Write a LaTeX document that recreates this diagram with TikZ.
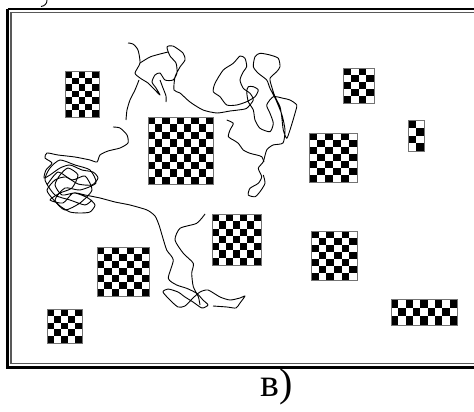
\documentclass[tikz,border=0pt]{standalone}
\usepackage{fontspec}
\setmainfont{Liberation Serif}
\tikzset{
  walk/.style={draw=black, line width=0.9pt, smooth, tension=0.4, line join=round},
  boardedge/.style={draw=black!55, line width=0.8pt},
  outerframe/.style={draw=black, line width=2.6pt},
  innerframe/.style={draw=black!65, line width=1.1pt},
}
\newcommand\chkb[6]{%
  \pgfmathsetmacro\chkW{(#3-#1)/#5}%
  \pgfmathsetmacro\chkH{(#4-#2)/#6}%
  \pgfmathtruncatemacro\chkC{#5-1}%
  \pgfmathtruncatemacro\chkR{#6-1}%
  \fill[white] (#1,#2) rectangle (#3,#4);
  \foreach \ci in {0,...,\chkC}{%
    \foreach \cj in {0,...,\chkR}{%
      \pgfmathtruncatemacro\chkP{mod(\ci+\cj,2)}%
      \ifnum\chkP=0
        \fill[black] ({#1+\ci*\chkW},{#2+\cj*\chkH}) rectangle ++(\chkW,\chkH);
      \fi
    }%
  }%
  \draw[boardedge] (#1,#2) rectangle (#3,#4);
}
\begin{document}
\begin{tikzpicture}[x=1pt,y=-1pt]
\clip (0,0) rectangle (474,412);
\fill[white] (0,0) rectangle (474,412);

% frame
\draw[outerframe] (7.5,9) -- (480,9);
\draw[outerframe] (7.5,9) -- (7.5,367.5) -- (480,367.5);
\draw[innerframe] (11,12.2) -- (480,12.2);
\draw[innerframe] (11,12.2) -- (11,363.6) -- (480,363.6);

% fragment of label above
\draw[line width=0.9pt] (47,0) .. controls (47,3.5) and (45,6) .. (41,6.5);

% checkerboards
\chkb{65}{71}{99}{117}{5}{7}
\chkb{148}{117}{213}{184}{9}{9}
\chkb{343}{68}{374}{103}{4}{5}
\chkb{408}{120}{424}{151}{2}{4}
\chkb{309}{133}{357}{182}{6}{7}
\chkb{311}{231}{357}{280}{6}{7}
\chkb{212}{214}{261}{265}{7}{7}
\chkb{97}{247}{149}{296}{7}{7}
\chkb{47}{309}{82}{343}{5}{5}
\chkb{391}{299}{457}{325}{9}{3}

% random walks
\draw[walk] plot coordinates {
 (128,43) (133,44) (138,50) (140,63) (135,73) (140,78) (148,83) (153,88) (160,95)
 (156,88) (152,82) (155,75) (160,73) (165,80) (173,80) (177,73) (176,63) (170,56)
 (167,47) (173,46) (183,53) (185,60) (180,67) (175,77) (174,90) (180,93) (190,102)
 (203,110) (217,113) (230,111) (238.3,110) (246.7,108.3) (253.3,100) (250,93.3)
 (243.3,88.3) (240,80) (243.3,71.7) (246.7,66.7) (245,58.3) (240,56) (233.3,63.3)
 (223.3,70) (215,83.3) (213.3,91.7) (220,96.7) (226.7,105) (236.7,105) (246.7,101.7)
 (255,96.7) (258.3,90) (253.3,86.7) (248.3,86.7) (246.7,91.7) (248.3,101.7) (253.3,110)
 (255,120) (260,128.3) (270,131.7) (273.3,123.3) (270,113.3) (266.7,105) (273.3,96.7)
 (283.3,98.3) (290,100) (296.7,105) (295,113.3) (290,130) (286.7,138.3) (283.3,130)
 (281.7,116.7) (280,106.7) (275,96.7) (271.7,86.7) (270,78.3) (276.7,71.7) (280,66.7)
 (278.3,58.3) (270,55) (260,53.3) (255,56.7) (253.3,66.7) (258.3,73.3) (266.7,80)
 (270,88.3) (276,100) (282,115) (285,130) (283,143) (273,145) (266.7,150) (263.3,161.7)
 (258.3,168.3) (261.7,176.7) (258.3,183.3) (250,188.3) (248.3,195) (255,196.7)
 (260,191.7) (265,183.3) (263.3,175)
};
\draw[walk] plot coordinates {
 (140,63) (150,57) (160,54) (168,52)
};
\draw[walk] plot coordinates {
 (126,120) (127,110) (130,100) (135,90) (139,80)
};
\draw[walk] plot coordinates {
 (160,80) (163,88) (166,96) (166,102)
};
\draw[walk] plot coordinates {
 (226.7,120) (233.3,123.3) (230,130) (228.3,136.7) (233.3,140) (238.3,143.3)
 (243.3,150) (250,153.3) (256.7,155) (261.7,156.7) (264,162)
};
\draw[walk] plot coordinates {
 (113,127) (120,128) (127,135) (128,143) (120,148) (108,151) (100,155) (97,162)
 (90,160) (75,157) (58,155) (47,153) (45,158) (52,163) (46,170) (44,178) (50,175)
 (60,168) (70,165) (82,170) (93,172) (98,178) (92,185) (78,184) (66,177) (55,180)
 (47,190) (52,198) (60,206) (70,212) (80,213) (90,212) (95,205) (88,198) (75,193)
 (62,195) (55,185) (60,175) (68,168) (78,175) (72,188) (60,193) (50,200) (63,203)
 (73,193) (85,195) (100,198) (115,202) (130,205) (147,210) (155,216) (159,225)
 (162,235) (166.7,250) (173.3,260) (168.3,278.3) (176.7,285) (186.7,288.3)
 (196.7,293.3) (203,300) (208,305) (202,308) (193,302) (185,297) (178,292) (168,289)
 (163,292) (170,300) (178,307) (185,306) (193,298) (200,292) (208,290) (220,297)
 (230,300) (240,298) (245,296) (240,303) (236,308) (227,307) (213,306)
};
\draw[walk] plot coordinates {
 (47,185) (58,172) (72,180) (85,176) (92,190) (80,203) (65,210) (55,200) (65,188)
 (80,190) (96,183) (90,170) (75,165) (60,160) (50,168) (45,180) (55,195) (70,200)
 (85,205) (92,200)
};
\draw[walk] plot coordinates {
 (205,214) (196.7,223.3) (180,228.3) (175,240) (183.3,253.3) (193.3,263.3)
 (191.7,273.3) (193.3,286.7) (198.3,296.7) (200,305)
};

% label
\node[font=\fontsize{40}{46}\selectfont, inner sep=0pt] (lbl) at (277,387) {в)};
\end{tikzpicture}
\end{document}
